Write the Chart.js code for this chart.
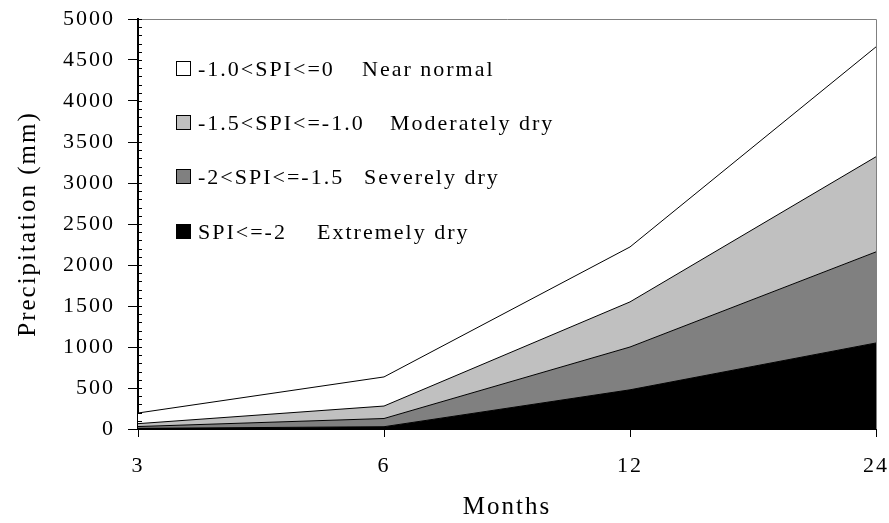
<!DOCTYPE html>
<html>
<head>
<meta charset="utf-8">
<script src="https://cdn.jsdelivr.net/npm/chart.js@4/dist/chart.umd.min.js"></script>
<style>
  html, body { margin: 0; padding: 0; background: #fff; }
  #wrap { position: relative; width: 889px; height: 523px; }
  #c { position: absolute; left: 0; top: 0; }
  #legend { position: absolute; left: 0; top: 0; width: 889px; height: 523px; pointer-events: none;
            font-family: "Liberation Serif", "Times New Roman", serif; font-size: 22px; letter-spacing: 2px; color: #000; }
  .row { position: absolute; left: 176px; height: 24px; line-height: 24px; white-space: pre; }
  .box { position: absolute; left: 0; top: 4px; width: 15px; height: 15px; border: 1px solid #000; box-sizing: border-box; }
  .lab { position: absolute; left: 22px; top: 0; }
  .desc { position: absolute; top: 0; }
</style>
</head>
<body>
<div id="wrap">
  <canvas id="c" width="889" height="523"></canvas>
  <div id="legend"></div>
</div>
<script>
// Time scales (months) on the x axis
const months = ['3', '6', '12', '24'];

// Precipitation thresholds (mm) for each SPI class boundary
const nearNormal     = [195, 635, 2220, 4660];
const moderatelyDry  = [65, 280, 1550, 3320];
const severelyDry    = [30, 128, 1000, 2160];
const extremelyDry   = [8, 28, 478, 1049];

// Legend texts
const classRanges = ['-1.0<SPI<=0', '-1.5<SPI<=-1.0', '-2<SPI<=-1.5', 'SPI<=-2'];
const classNames  = ['Near normal', 'Moderately dry', 'Severely dry', 'Extremely dry'];

const yTicks = [0, 500, 1000, 1500, 2000, 2500, 3000, 3500, 4000, 4500, 5000];

const fills = ['#ffffff', '#c0c0c0', '#808080', '#000000'];

// legend rows drawn top to bottom
const legendTop = [57, 111, 165, 220];
const descLeft = [186, 214, 188, 141];
const legendEl = document.getElementById('legend');
classRanges.forEach((r, i) => {
  const row = document.createElement('div');
  row.className = 'row';
  row.style.top = legendTop[i] + 'px';
  row.innerHTML = '<div class="box" style="background:' + fills[i] + '"></div>' +
    '<span class="lab"></span><span class="desc" style="left:' + descLeft[i] + 'px"></span>';
  row.querySelector('.lab').textContent = r;
  row.querySelector('.desc').textContent = classNames[i];
  legendEl.appendChild(row);
});

// wide letter spacing on all canvas text
function spacing(chart) { chart.ctx.letterSpacing = '2px'; }

const frameAndMinorTicks = {
  id: 'frameAndMinorTicks',
  beforeLayout: spacing,
  beforeDraw: spacing,
  afterDraw(chart) {
    const { ctx, chartArea: a, scales } = chart;
    const y = scales.y;
    ctx.save();
    // grey frame on top and right
    ctx.strokeStyle = '#808080';
    ctx.lineWidth = 1;
    ctx.beginPath();
    ctx.moveTo(a.left, a.top + 0.5);
    ctx.lineTo(a.right + 0.5, a.top + 0.5);
    ctx.lineTo(a.right + 0.5, a.bottom);
    ctx.stroke();
    // minor ticks every 100 mm, inside the axis
    ctx.strokeStyle = '#000';
    ctx.beginPath();
    for (let v = 0; v <= 5000; v += 100) {
      const py = Math.round(y.getPixelForValue(v)) + 0.5;
      ctx.moveTo(a.left, py);
      ctx.lineTo(a.left + 4, py);
    }
    ctx.stroke();
    ctx.restore();
  }
};

const mk = (label, data, color, fill) => ({
  label, data, fill,
  backgroundColor: color,
  borderColor: '#000',
  borderWidth: 1,
  pointRadius: 0,
  tension: 0
});

new Chart(document.getElementById('c'), {
  type: 'line',
  data: {
    labels: months,
    datasets: [
      mk(classNames[3], extremelyDry, fills[3], 'origin'),
      mk(classNames[2], severelyDry, fills[2], '-1'),
      mk(classNames[1], moderatelyDry, fills[1], '-1'),
      mk(classNames[0], nearNormal, fills[0], '-1')
    ]
  },
  options: {
    responsive: false,
    animation: false,
    devicePixelRatio: 1,
    layout: { padding: { top: 19, right: 13, left: 0, bottom: 0 } },
    plugins: { legend: { display: false }, tooltip: { enabled: false } },
    scales: {
      x: {
        type: 'category',
        offset: false,
        afterFit(s) { s.height = 94; s.paddingLeft = 0; s.paddingRight = 0; },
        grid: { display: true, drawOnChartArea: false, drawTicks: true, tickLength: 8, color: '#000', lineWidth: 1 },
        border: { display: true, color: '#000', width: 2 },
        ticks: { color: '#000', padding: 16, maxRotation: 0,
                 font: { family: '"Liberation Serif", serif', size: 22 } },
        title: { display: true, text: 'Months', color: '#000', padding: { top: 0, bottom: 1 },
                 font: { family: '"Liberation Serif", serif', size: 25 } }
      },
      y: {
        min: 0, max: 5000,
        afterFit(s) { s.width = 138; s.paddingTop = 0; s.paddingBottom = 0; },
        afterBuildTicks(s) { s.ticks = yTicks.map(v => ({ value: v })); },
        grid: { display: true, drawOnChartArea: false, drawTicks: true, tickLength: 10, color: '#000', lineWidth: 1 },
        border: { display: true, color: '#000', width: 2 },
        ticks: { color: '#000', padding: 13,
                 callback: v => String(v),
                 font: { family: '"Liberation Serif", serif', size: 22 } },
        title: { display: true, text: 'Precipitation (mm)', color: '#000', padding: { top: 13, bottom: 0 },
                 font: { family: '"Liberation Serif", serif', size: 25 } }
      }
    }
  },
  plugins: [frameAndMinorTicks]
});
</script>
</body>
</html>
